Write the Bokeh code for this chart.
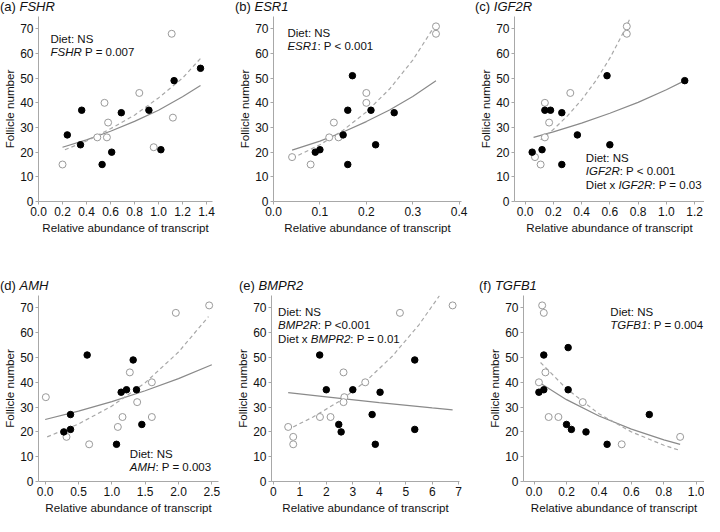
from bokeh.plotting import figure
from bokeh.models import Label, Range1d, FixedTicker, PrintfTickFormatter, Div
from bokeh.layouts import column, row
from bokeh.embed import file_html
from bokeh.resources import INLINE

FONT = "Liberation Sans"

# ---------------- data ----------------
y_ticks = [0, 10, 20, 30, 40, 50, 60, 70]

# (a) FSHR
a_fill_x = [0.24, 0.35, 0.36, 0.53, 0.61, 0.69, 0.92, 1.02, 1.13, 1.35]
a_fill_y = [27, 23, 37, 15, 20, 36, 37, 21, 49, 54]
a_open_x = [0.20, 0.49, 0.55, 0.57, 0.58, 0.84, 0.96, 1.11, 1.12]
a_open_y = [15, 26, 40, 26, 32, 44, 22, 68, 34]
a_solid_x = [0.2, 0.4, 0.6, 0.8, 1.0, 1.2, 1.35]
a_solid_y = [22, 25, 28.5, 32.5, 37, 42.5, 47]
a_dash_x = [0.22, 0.4, 0.6, 0.8, 1.0, 1.2, 1.35]
a_dash_y = [21, 24.5, 29.5, 35, 42, 50, 58]
a_ticks = [0.0, 0.2, 0.4, 0.6, 0.8, 1.0, 1.2, 1.4]

# (b) ESR1
b_fill_x = [0.09, 0.10, 0.16, 0.16, 0.15, 0.17, 0.21, 0.22, 0.26]
b_fill_y = [20, 21, 15, 37, 27, 51, 37, 23, 36]
b_open_x = [0.04, 0.08, 0.12, 0.13, 0.14, 0.20, 0.20, 0.35, 0.35]
b_open_y = [18, 15, 26, 32, 26, 44, 40, 71, 68]
b_solid_x = [0.04, 0.10, 0.15, 0.20, 0.25, 0.30, 0.35]
b_solid_y = [20.8, 24.5, 28.2, 32.4, 37.1, 42.6, 49]
b_dash_x = [0.04, 0.10, 0.15, 0.20, 0.25, 0.30, 0.35]
b_dash_y = [17.5, 23.0, 28.9, 36.3, 45.6, 57.3, 72]
b_ticks = [0.0, 0.1, 0.2, 0.3, 0.4]

# (c) IGF2R
c_fill_x = [0.05, 0.12, 0.14, 0.18, 0.26, 0.26, 0.37, 0.58, 0.60, 1.13]
c_fill_y = [20, 21, 37, 37, 36, 15, 27, 51, 23, 49]
c_open_x = [0.07, 0.11, 0.14, 0.17, 0.14, 0.32, 0.72, 0.72]
c_open_y = [18, 15, 40, 32, 26, 44, 71, 68]
c_solid_x = [0.06, 0.2, 0.4, 0.6, 0.8, 1.0, 1.13]
c_solid_y = [26, 28.2, 31.8, 35.8, 40.2, 45.3, 49]
c_dash_x = [0.11, 0.2, 0.3, 0.4, 0.5, 0.6, 0.7, 0.74]
c_dash_y = [25, 29.2, 34.7, 41.2, 48.9, 58.1, 69, 73.9]
c_ticks = [0.0, 0.2, 0.4, 0.6, 0.8, 1.0, 1.2]

# (d) AMH
d_fill_x = [0.28, 0.38, 0.38, 0.63, 1.07, 1.14, 1.22, 1.32, 1.37, 1.45]
d_fill_y = [20, 21, 27, 51, 15, 36, 37, 49, 37, 23]
d_open_x = [0.01, 0.32, 0.66, 1.09, 1.16, 1.27, 1.38, 1.60, 1.60, 1.96, 2.46]
d_open_y = [34, 18, 15, 22, 26, 44, 32, 40, 26, 68, 71]
d_solid_x = [0.0, 0.5, 1.0, 1.5, 2.0, 2.5]
d_solid_y = [25, 28.4, 32.2, 36.6, 41.5, 47.1]
d_dash_x = [0.03, 0.5, 1.0, 1.5, 2.0, 2.45]
d_dash_y = [18, 23.2, 30.4, 39.8, 52.2, 66.5]
d_ticks = [0.0, 0.5, 1.0, 1.5, 2.0, 2.5]

# (e) BMPR2
e_fill_x = [1.75, 2.0, 2.47, 2.56, 3.0, 3.73, 3.85, 4.03, 5.34, 5.34]
e_fill_y = [51, 37, 23, 20, 37, 27, 15, 36, 49, 21]
e_open_x = [0.56, 0.75, 0.75, 1.76, 2.16, 2.65, 2.68, 2.65, 3.47, 4.78, 6.77]
e_open_y = [22, 18, 15, 26, 26, 44, 34, 32, 40, 68, 71]
e_solid_x = [0.56, 2.0, 4.0, 6.0, 6.77]
e_solid_y = [35.8, 34.1, 31.8, 29.7, 28.9]
e_dash_x = [0.75, 1.5, 2.5, 3.5, 4.5, 5.5, 6.27]
e_dash_y = [22, 26, 32.4, 40.5, 50.6, 63.2, 74.9]
e_ticks = [0, 1, 2, 3, 4, 5, 6, 7]

# (f) TGFB1
f_fill_x = [0.03, 0.06, 0.06, 0.20, 0.21, 0.21, 0.23, 0.32, 0.45, 0.71]
f_fill_y = [36, 37, 51, 23, 54, 37, 21, 20, 15, 27]
f_open_x = [0.05, 0.06, 0.03, 0.07, 0.09, 0.15, 0.30, 0.54, 0.90]
f_open_y = [71, 68, 40, 44, 26, 26, 32, 15, 18]
f_solid_x = [0.03, 0.2, 0.4, 0.6, 0.8, 0.9]
f_solid_y = [40, 33, 26.4, 21.1, 16.8, 15]
f_dash_x = [0.04, 0.2, 0.4, 0.6, 0.8, 0.9]
f_dash_y = [48, 37.4, 27.3, 20, 14.6, 12.5]
f_ticks = [0.0, 0.2, 0.4, 0.6, 0.8, 1.0]

# ---------------- helpers ----------------
ARIAL = {' ': 278, '(': 333, ')': 333, ':': 278, '<': 584, '=': 584, '.': 278, 'x': 500}
for ch in "0123456789":
    ARIAL[ch] = 556
ARIAL.update({'A': 667, 'B': 667, 'C': 722, 'D': 722, 'E': 667, 'F': 611, 'G': 778, 'H': 722,
              'I': 278, 'M': 833, 'N': 722, 'P': 667, 'R': 722, 'S': 667, 'T': 611,
              'a': 556, 'b': 556, 'c': 500, 'd': 556, 'e': 556, 'f': 278, 'i': 222, 't': 278})

NOTE_SIZE = 11.5


def tw(s, size):
    return sum(ARIAL.get(ch, 556) for ch in s) * size / 1000.0


def rich(p, x, y, segs, size=NOTE_SIZE):
    off = 0.0
    for txt, it in segs:
        lead = len(txt) - len(txt.lstrip(" "))
        off += tw(" " * lead, size)
        body = txt.strip(" ")
        if body:
            p.add_layout(Label(x=x, y=y, x_offset=off,
                               text=body, text_font=FONT, text_font_size=f"{size}px",
                               text_font_style="italic" if it else "normal",
                               text_color="#111111", text_baseline="middle", text_align="left"))
        off += tw(txt.lstrip(" "), size)


def title_div(letter, gene, width, pad):
    return Div(text=f"({letter}) <i>{gene}</i>", width=width, height=14, margin=(0, 0, 0, 0),
               styles={"font-family": FONT, "font-size": "13px", "line-height": "14px",
                       "color": "#111111", "padding-left": f"{pad}px", "white-space": "nowrap"})


def panel(width, height, left, right, top, bottom, xr, ticks, fmt,
          fx, fy, ox, oy, sx, sy, dx, dy, notes):
    p = figure(width=width, height=height, x_range=Range1d(*xr), y_range=Range1d(0, 75),
               output_backend="svg", toolbar_location=None,
               min_border_left=left, min_border_right=right,
               min_border_top=top, min_border_bottom=bottom)
    p.xgrid.visible = False
    p.ygrid.visible = False
    p.outline_line_color = None
    p.background_fill_color = "white"
    p.border_fill_color = "white"
    for ax in (p.xaxis[0], p.yaxis[0]):
        ax.axis_line_color = "#a8a8a8"
        ax.major_tick_line_color = "#a8a8a8"
        ax.minor_tick_line_color = None
        ax.major_tick_in = 0
        ax.major_tick_out = 3
        ax.major_label_standoff = 2
        ax.major_label_text_font = FONT
        ax.major_label_text_font_size = "12px"
        ax.major_label_text_color = "#111111"
        ax.axis_label_text_font = FONT
        ax.axis_label_text_font_size = "11.6px"
        ax.axis_label_text_font_style = "normal"
        ax.axis_label_text_color = "#111111"
        ax.axis_label_standoff = 2
    p.xaxis[0].ticker = FixedTicker(ticks=ticks)
    p.xaxis[0].formatter = PrintfTickFormatter(format=fmt)
    p.yaxis[0].ticker = FixedTicker(ticks=y_ticks)
    p.yaxis[0].formatter = PrintfTickFormatter(format="%d")
    p.xaxis[0].axis_label = "Relative abundance of transcript"
    p.yaxis[0].axis_label = "Follicle number"
    p.yaxis[0].axis_label_standoff = 1

    p.line(sx, sy, line_color="#8a8a8a", line_width=1.2)
    p.line(dx, dy, line_color="#a8a8a8", line_width=1.2, line_dash="4 3")
    p.scatter(ox, oy, size=7, marker="circle", fill_color="white", line_color="#9a9a9a", line_width=1)
    p.scatter(fx, fy, size=6.5, marker="circle", fill_color="black", line_color="black")

    for (nx, ny, segs) in notes:
        rich(p, nx, ny, segs)
    return p


H1, T1, B1 = 265, 2, 78
H2, T2, B2 = 223, 2, 31

pa = panel(232, H1, 30, 20, T1, B1, (0, 1.45), a_ticks, "%.1f",
           a_fill_x, a_fill_y, a_open_x, a_open_y, a_solid_x, a_solid_y, a_dash_x, a_dash_y,
           [(0.10, 66.0, [("Diet: NS", False)]),
            (0.10, 60.6, [("FSHR", True), (" P = 0.007", False)])])

pb = panel(240, H1, 41, 11, T1, B1, (0, 0.405), b_ticks, "%.1f",
           b_fill_x, b_fill_y, b_open_x, b_open_y, b_solid_x, b_solid_y, b_dash_x, b_dash_y,
           [(0.03, 68.4, [("Diet: NS", False)]),
            (0.03, 63.0, [("ESR1", True), (": P < 0.001", False)])])

pc = panel(232, H1, 42, 0, T1, B1, (-0.075, 1.27), c_ticks, "%.1f",
           c_fill_x, c_fill_y, c_open_x, c_open_y, c_solid_x, c_solid_y, c_dash_x, c_dash_y,
           [(0.43, 17.6, [("Diet: NS", False)]),
            (0.43, 12.2, [("IGF2R", True), (": P < 0.001", False)]),
            (0.43, 6.8, [("Diet x ", False), ("IGF2R", True), (": P = 0.03", False)])])

pd = panel(232, H2, 30, 14, T2, B2, (-0.1, 2.6), d_ticks, "%.1f",
           d_fill_x, d_fill_y, d_open_x, d_open_y, d_solid_x, d_solid_y, d_dash_x, d_dash_y,
           [(1.27, 10.9, [("Diet: NS", False)]),
            (1.27, 5.7, [("AMH", True), (": P = 0.003", False)])])

pe = panel(240, H2, 39, 13, T2, B2, (-0.07, 7.03), e_ticks, "%d",
           e_fill_x, e_fill_y, e_open_x, e_open_y, e_solid_x, e_solid_y, e_dash_x, e_dash_y,
           [(0.18, 68.5, [("Diet: NS", False)]),
            (0.18, 63.0, [("BMP2R", True), (": P <0.001", False)]),
            (0.18, 57.5, [("Diet x ", False), ("BMPR2", True), (": P = 0.01", False)])])

pf = panel(232, H2, 51, 0, T2, B2, (-0.065, 1.05), f_ticks, "%.1f",
           f_fill_x, f_fill_y, f_open_x, f_open_y, f_solid_x, f_solid_y, f_dash_x, f_dash_y,
           [(0.47, 68.5, [("Diet: NS", False)]),
            (0.47, 63.1, [("TGFB1", True), (": P = 0.004", False)])])

layout = column(
    row(column(title_div("a", "FSHR", 232, 0), pa),
        column(title_div("b", "ESR1", 240, 3), pb),
        column(title_div("c", "IGF2R", 232, 3), pc)),
    row(column(title_div("d", "AMH", 232, 0), pd),
        column(title_div("e", "BMPR2", 240, 7), pe),
        column(title_div("f", "TGFB1", 232, 7), pf)),
)
open("out.html", "w").write(file_html(layout, INLINE))
